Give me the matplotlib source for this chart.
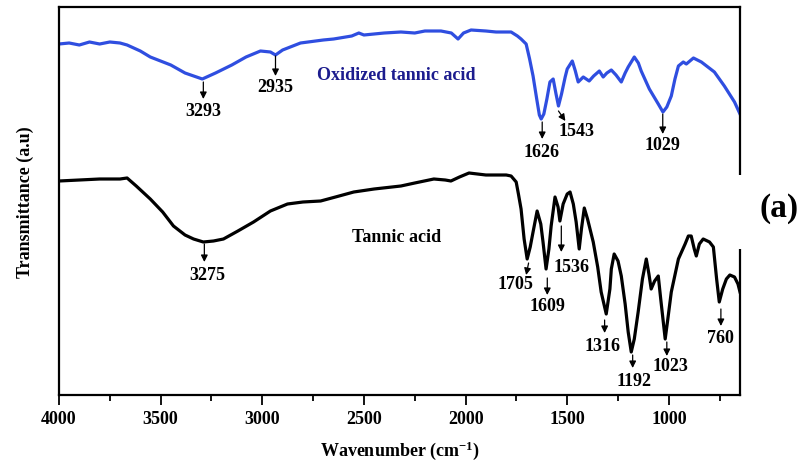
import matplotlib
matplotlib.use("Agg")
import matplotlib.pyplot as plt
from matplotlib.patches import Rectangle

plt.rcParams['font.family'] = ['Liberation Serif', 'DejaVu Serif']
plt.rcParams['font.weight'] = 'bold'
plt.rcParams['mathtext.fontset'] = 'custom'
plt.rcParams['mathtext.rm'] = 'Liberation Serif:bold'
plt.rcParams['mathtext.bf'] = 'Liberation Serif:bold'
plt.rcParams['mathtext.default'] = 'bf'

# ---- data (wavenumber, arbitrary transmittance units) ----
ox_wn = [4000, 3950, 3900, 3850, 3800, 3750, 3700, 3665, 3600, 3551, 3450, 3380, 3295,
         3230, 3150, 3080, 3009, 2960, 2935, 2900, 2812, 2700, 2649, 2560, 2525, 2500,
         2400, 2318, 2250, 2200, 2121, 2070, 2037, 2010, 1973, 1900, 1850, 1776, 1745,
         1727, 1702, 1685, 1668, 1650, 1637, 1628, 1615, 1600, 1585, 1569, 1555, 1543,
         1528, 1510, 1500, 1475, 1460, 1446, 1421, 1392, 1370, 1342, 1323, 1305, 1283,
         1260, 1234, 1215, 1200, 1170, 1150, 1136, 1096, 1052, 1029, 1010, 988, 970,
         953, 929, 914, 879, 840, 776, 727, 677, 650]
ox_px = [45, 44, 46, 43, 45, 43, 44, 46, 52, 58, 66, 74, 80,
         74, 66, 58, 52, 53, 56, 51, 44, 41, 40, 37, 34, 36,
         34, 33, 34, 32, 32, 34, 40, 34, 31, 32, 33, 33, 37,
         40, 45, 60, 77, 100, 116, 120, 115, 100, 83, 80, 95, 107,
         95, 78, 70, 62, 72, 83, 78, 82, 77, 72, 78, 74, 71,
         76, 83, 74, 68, 58, 64, 72, 90, 105, 113, 108, 97, 80,
         67, 63, 65, 59, 63, 73, 87, 103, 115]

ta_wn = [4000, 3900, 3800, 3700, 3665, 3620, 3551, 3490, 3437, 3380, 3338, 3290, 3240,
         3191, 3120, 3043, 2960, 2876, 2800, 2713, 2640, 2550, 2450, 2318, 2250, 2156,
         2100, 2072, 2030, 1983, 1900, 1800, 1776, 1751, 1740, 1727, 1712, 1697, 1682,
         1668, 1648, 1630, 1619, 1604, 1590, 1579, 1560, 1545, 1536, 1520, 1500, 1486,
         1470, 1456, 1441, 1430, 1416, 1400, 1372, 1350, 1333, 1308, 1290, 1283, 1269,
         1250, 1234, 1215, 1200, 1185, 1170, 1151, 1130, 1111, 1098, 1087, 1070, 1052,
         1040, 1018, 1005, 988, 953, 920, 904, 890, 875, 865, 850, 831, 800, 781, 765,
         752, 735, 717, 700, 677, 660, 650]
ta_px = [182, 181, 180, 180, 179, 187, 200, 213, 227, 236, 240, 243, 242,
         240, 232, 223, 212, 205, 203, 202, 198, 193, 190, 187, 184, 180,
         181, 182, 178, 174, 176, 176, 177, 183, 195, 210, 240, 260, 248,
         233, 212, 225, 243, 270, 250, 227, 198, 208, 222, 205, 195, 193,
         205, 223, 250, 230, 209, 220, 243, 268, 293, 315, 290, 270, 255,
         262, 277, 305, 333, 353, 340, 313, 280, 260, 275, 290, 282, 277,
         300, 340, 320, 293, 260, 245, 237, 237, 250, 257, 245, 240, 243, 248, 280,
         303, 290, 280, 276, 278, 285, 293]

ox_vals = [400 - p for p in ox_px]
ta_vals = [400 - p for p in ta_px]

# peak labels
ox_labels = ["3293", "2935", "1626", "1543", "1029"]
ox_text = [(3290, 112), (2935, 88), (1628, 153), (1455, 132), (1030, 146)]
ox_arrow = [(3290, 83, 3290, 100), (2935, 57, 2935, 77), (1623, 123, 1623, 140),
            (1543, 112, 1509, 122), (1030, 115, 1030, 135)]

ta_labels = ["3275", "1705", "1609", "1536", "1316", "1192", "1023", "760"]
ta_text = [(3270, 276), (1755, 285), (1598, 307), (1479, 268), (1326, 347),
           (1173, 382), (991, 367), (744, 339)]
ta_arrow = [(3285, 245, 3285, 263), (1690, 264, 1702, 276), (1598, 279, 1598, 296),
            (1529, 227, 1529, 253), (1316, 321, 1316, 334), (1178, 356, 1178, 369),
            (1010, 343, 1010, 357), (744, 310, 744, 327)]

BLUE = '#2f4ee0'
NAVY = '#1c1c8e'
FS = 13

fig = plt.figure(figsize=(8.05, 4.64), dpi=100)
ax = fig.add_axes([59/805, 1 - 396/464, (740-59)/805, (396-8)/464])

ax.plot(ox_wn, ox_vals, color=BLUE, lw=2.3, solid_joinstyle='round')
ax.plot(ta_wn, ta_vals, color='black', lw=2.3, solid_joinstyle='round')

ax.set_xlim(4000, 650)
ax.set_ylim(4, 392)

def draw_labels(labels, texts, arrows):
    for lab, (tx, ty), (x0, y0, x1, y1) in zip(labels, texts, arrows):
        ax.text(tx, 400 - ty, lab, ha='center', va='center', fontsize=FS,
                fontweight='bold', color='black')
        ax.annotate('', xy=(x1, 400 - y1), xytext=(x0, 400 - y0),
                    arrowprops=dict(arrowstyle='-|>', color='black', lw=0.9,
                                    mutation_scale=10, shrinkA=0, shrinkB=0))

draw_labels(ox_labels, ox_text, ox_arrow)
draw_labels(ta_labels, ta_text, ta_arrow)

ax.text(2342, 400 - 76, "Oxidized tannic acid", ha='center', va='center',
        fontsize=FS, fontweight='bold', color=NAVY)
ax.text(2338, 400 - 238, "Tannic acid", ha='center', va='center',
        fontsize=FS, fontweight='bold', color='black')

ax.set_xticks([4000, 3500, 3000, 2500, 2000, 1500, 1000])
ax.set_xticks([3750, 3250, 2750, 2250, 1750, 1250, 750], minor=True)
ax.set_yticks([])
ax.tick_params(axis='x', which='major', direction='out', length=7, width=1.3,
               labelsize=FS, pad=4)
ax.tick_params(axis='x', which='minor', direction='out', length=4, width=1.3)
for lab in ax.get_xticklabels():
    lab.set_fontweight('bold')
for s in ax.spines.values():
    s.set_linewidth(1.6)

ax.set_xlabel(r'Wavenumber (cm$^{-1}$)', fontsize=FS, fontweight='bold', labelpad=8)
ax.set_ylabel('Transmittance (a.u)', fontsize=FS, fontweight='bold', labelpad=18)

# white patch breaking the right spine, with panel letter
fig.patches.append(Rectangle((736/805, 1 - 250/464), 69/805, 74/464,
                             transform=fig.transFigure, facecolor='white',
                             edgecolor='none', zorder=5))
fig.text(779/805, 1 - 209/464, "(a)", ha='center', va='center', fontsize=24,
         fontweight='bold', zorder=6)

fig.savefig('out.png', dpi=100)
